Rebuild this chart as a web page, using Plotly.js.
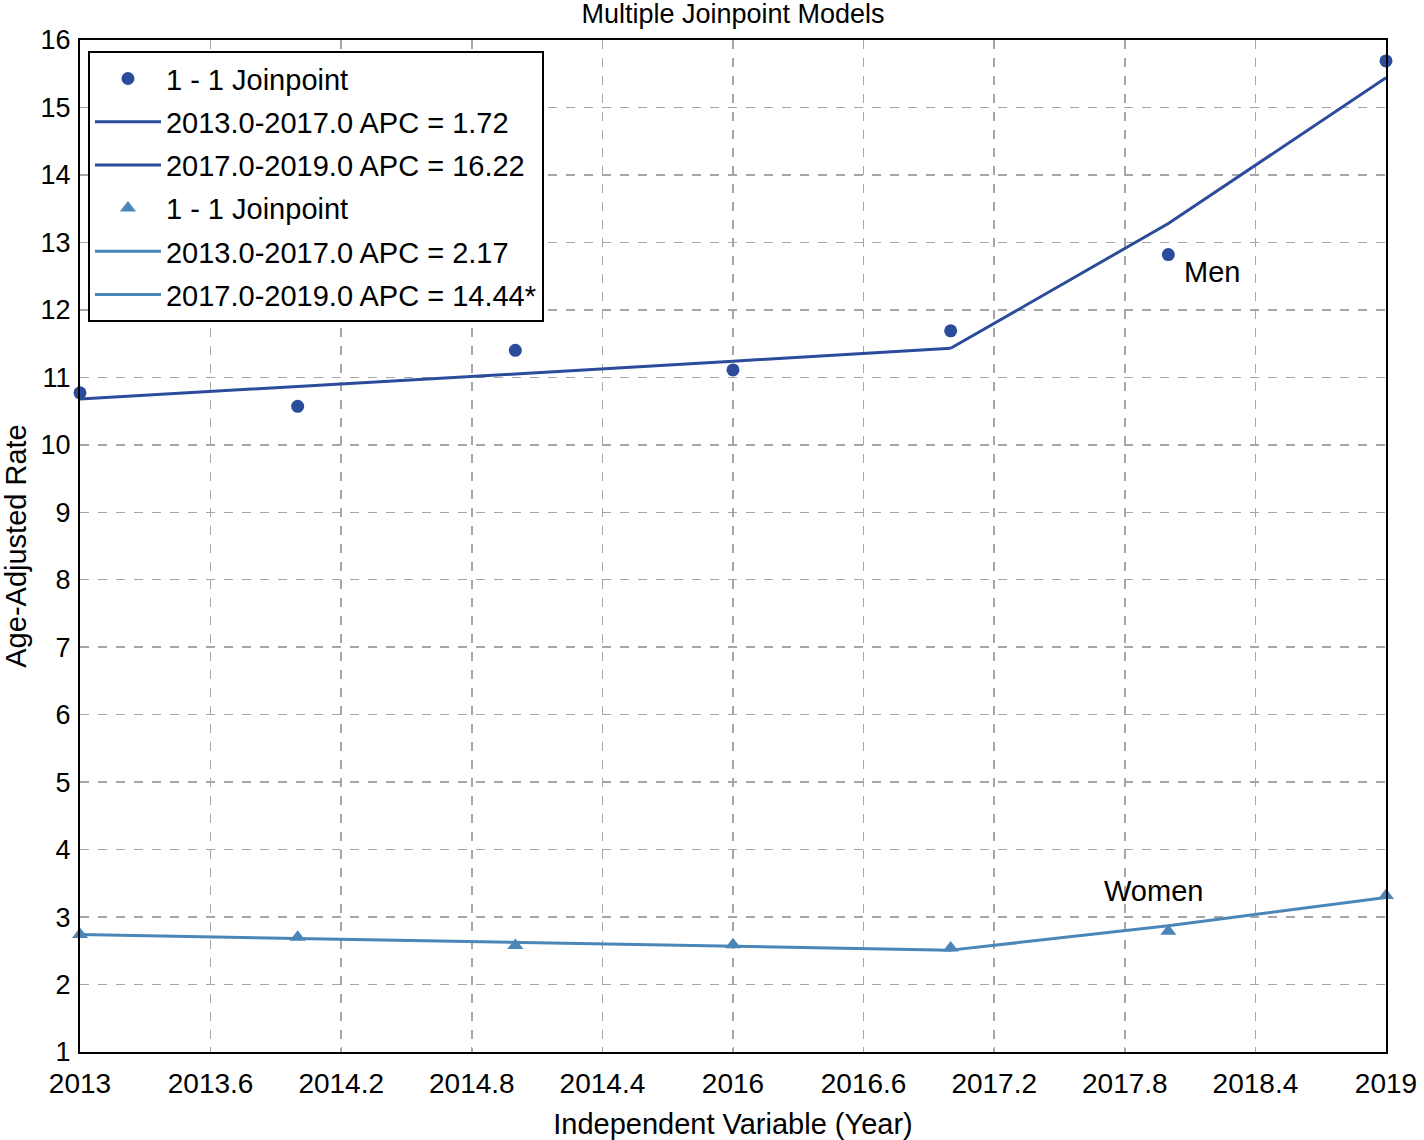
<!DOCTYPE html>
<html>
<head>
<meta charset="utf-8">
<script src="https://cdn.plot.ly/plotly-3.0.1.min.js"></script>
<style>html,body{margin:0;padding:0;background:#fff;}#chart{width:1424px;height:1140px;}</style>
</head>
<body>
<div id="chart"></div>
<script>
const years = [2013, 2014, 2015, 2016, 2017, 2018, 2019];
const menObserved = [10.77, 10.57, 11.40, 11.11, 11.69, 12.82, 15.69];
const menFitted = [10.68, 10.86, 11.05, 11.24, 11.43, 13.28, 15.44];
const womenObserved = [2.74, 2.70, 2.58, 2.59, 2.54, 2.79, 3.32];
const womenFitted = [2.74, 2.68, 2.62, 2.57, 2.51, 2.87, 3.29];
const xTickVals = [2013, 2013.6, 2014.2, 2014.8, 2015.4, 2016, 2016.6, 2017.2, 2017.8, 2018.4, 2019];
const xTickText = ["2013", "2013.6", "2014.2", "2014.8", "2014.4", "2016", "2016.6", "2017.2", "2017.8", "2018.4", "2019"];
const yTickVals = [1, 2, 3, 4, 5, 6, 7, 8, 9, 10, 11, 12, 13, 14, 15, 16];
const legendLabels = ["1 - 1 Joinpoint", "2013.0-2017.0 APC = 1.72", "2017.0-2019.0 APC = 16.22",
                      "1 - 1 Joinpoint", "2013.0-2017.0 APC = 2.17", "2017.0-2019.0 APC = 14.44*"];

const menColor = "#2b4c9a";
const womenColor = "#4a86b8";
const font = "Liberation Sans, Arial, sans-serif";

const traces = [
  {x: years, y: menObserved, mode: "markers", type: "scatter", name: legendLabels[0], legendgroup: "g0",
   marker: {color: menColor, size: 13, symbol: "circle"}, cliponaxis: false},
  {x: years.slice(0, 5), y: menFitted.slice(0, 5), mode: "lines", type: "scatter", name: legendLabels[1], legendgroup: "g1",
   line: {color: menColor, width: 3}},
  {x: years.slice(4), y: menFitted.slice(4), mode: "lines", type: "scatter", name: legendLabels[2], legendgroup: "g2",
   line: {color: menColor, width: 3}},
  {x: years, y: womenObserved, mode: "markers", type: "scatter", name: legendLabels[3], legendgroup: "g3",
   marker: {color: womenColor, size: 14, symbol: "triangle-up"}, cliponaxis: false},
  {x: years.slice(0, 5), y: womenFitted.slice(0, 5), mode: "lines", type: "scatter", name: legendLabels[4], legendgroup: "g4",
   line: {color: womenColor, width: 3}},
  {x: years.slice(4), y: womenFitted.slice(4), mode: "lines", type: "scatter", name: legendLabels[5], legendgroup: "g5",
   line: {color: womenColor, width: 3}}
];

const layout = {
  width: 1424, height: 1140,
  margin: {l: 80, r: 38, t: 40, b: 88},
  paper_bgcolor: "#fff", plot_bgcolor: "#fff",
  font: {family: font, color: "#000", size: 28},
  title: {text: "Multiple Joinpoint Models", font: {family: font, size: 27, color: "#000"},
          x: 0.5, xref: "paper", y: 1 - 14/1140, yref: "container", yanchor: "middle"},
  xaxis: {
    range: [2013, 2019], tickmode: "array", tickvals: xTickVals, ticktext: xTickText,
    showgrid: true, gridcolor: "#a6a6a6", griddash: "dash", gridwidth: 1.5,
    showline: true, linecolor: "#000", linewidth: 2, mirror: true,
    ticks: "inside", ticklen: 5, tickcolor: "#a6a6a6", ticklabelstandoff: 5,
    zeroline: false, automargin: false, tickfont: {family: font, size: 28, color: "#000"},
    title: {text: "Independent Variable (Year)", font: {family: font, size: 29, color: "#000"}}
  },
  yaxis: {
    range: [1, 16], tickmode: "array", tickvals: yTickVals,
    showgrid: true, gridcolor: "#a6a6a6", griddash: "dash", gridwidth: 1.5,
    showline: true, linecolor: "#000", linewidth: 2, mirror: true,
    ticks: "inside", ticklen: 5, tickcolor: "#a6a6a6", ticklabelstandoff: 2,
    zeroline: false, automargin: false, tickfont: {family: font, size: 27, color: "#000"},
    title: {text: "Age-Adjusted Rate", font: {family: font, size: 29, color: "#000"}}
  },
  showlegend: true,
  legend: {
    x: 0.0061, y: 0.989, xanchor: "left", yanchor: "top",
    bgcolor: "#fff", bordercolor: "#000", borderwidth: 2,
    font: {family: font, size: 29, color: "#000"},
    traceorder: "grouped", tracegroupgap: 2.5, itemwidth: 66,
    entrywidth: 395, entrywidthmode: "pixels"
  },
  annotations: [
    {x: 2018.2, y: 12.56, xref: "x", yref: "y", text: "Men", showarrow: false,
     font: {family: font, size: 29, color: "#000"}},
    {x: 2017.93, y: 3.39, xref: "x", yref: "y", text: "Women", showarrow: false,
     font: {family: font, size: 29, color: "#000"}}
  ]
};

Plotly.newPlot("chart", traces, layout, {displayModeBar: false, staticPlot: true});
</script>
</body>
</html>
